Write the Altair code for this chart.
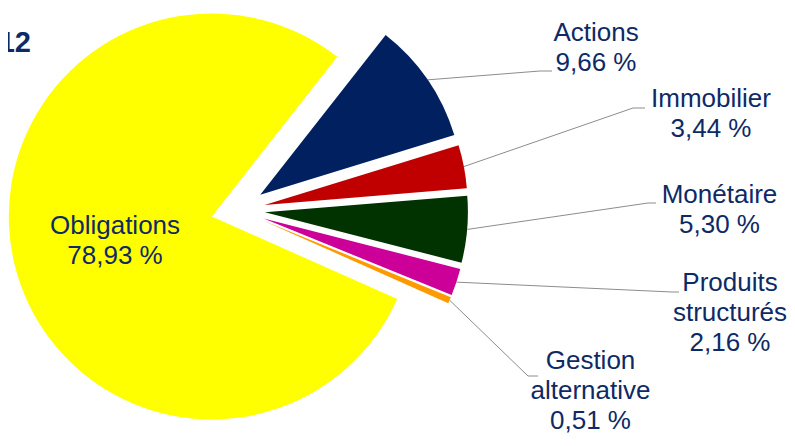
import math
import altair as alt
import pandas as pd

# ---- data ----
categories = ["Obligations", "Actions", "Immobilier", "Monétaire",
              "Produits structurés", "Gestion alternative"]
values = [78.93, 9.66, 3.44, 5.30, 2.16, 0.51]
label_names = ["Obligations", "Actions", "Immobilier", "Monétaire",
               "Produits\nstructurés", "Gestion\nalternative"]
colors = ["#FFFF00", "#002060", "#C00000", "#003300", "#CC0099", "#FF9900"]
title_lines = ["Répartition des fonds", "au 31/12/2012"]

# ---- layout (pixels inside the chart) ----
CX, CY = 230, 202          # pie centre
R = 203                    # outer radius
EXPLODE = 27               # slice explosion distance
START = math.radians(114)  # angle where the first slice starts (clockwise from 12 o'clock)

label_x = [107, 588, 703, 711.5, 722, 582.5]
label_y = [218, 25, 91, 187, 275, 353]      # centre of the first text line
elbow_x = [None, 532, 625, 640, 664, 520]
elbow_y = [None, 63, 100, 195, 284, 368]
tail_x = [None, 544, 637, 648, 671, 530]

TEXT_COLOR = "#0E2A66"
FONT = "Liberation Sans"

labels = [f"{n}\n{v:.2f}".replace(".", ",") + " %" for n, v in zip(label_names, values)]

df = pd.DataFrame({
    "order": list(range(len(categories))),
    "category": categories,
    "value": values,
    "label": labels,
    "lx": label_x,
    "ly": label_y,
    "ex": elbow_x,
    "ey": elbow_y,
    "tx": tail_x,
})

base = alt.Chart(df).transform_window(
    cum="sum(value)", sort=[alt.SortField("order")], frame=[None, 0]
).transform_calculate(
    c0="datum.cum - datum.value",
    c1="datum.cum",
    mid=f"{START} + 2*PI*(datum.cum - datum.value/2)/100",
).transform_calculate(
    cx=f"{CX} + {EXPLODE}*sin(datum.mid)",
    cy=f"{CY} - {EXPLODE}*cos(datum.mid)",
).transform_calculate(
    sx=f"datum.cx + {R}*sin(datum.mid)",
    sy=f"datum.cy - {R}*cos(datum.mid)",
)

arcs = base.mark_arc(radius=R, stroke=None).encode(
    theta=alt.Theta("c0:Q", stack=None,
                    scale=alt.Scale(domain=[0, 100], range=[START, START + 2 * math.pi])),
    theta2="c1:Q",
    x=alt.X("cx:Q", scale=None),
    y=alt.Y("cy:Q", scale=None),
    color=alt.Color("category:N", scale=alt.Scale(domain=categories, range=colors), legend=None),
)

leaders = base.transform_filter("isValid(datum.ex)")
seg1 = leaders.mark_rule(color="#8C8C8C", strokeWidth=1).encode(
    x=alt.X("sx:Q", scale=None), y=alt.Y("sy:Q", scale=None),
    x2="ex:Q", y2="ey:Q",
)
seg2 = leaders.mark_rule(color="#8C8C8C", strokeWidth=1).encode(
    x=alt.X("ex:Q", scale=None), y=alt.Y("ey:Q", scale=None),
    x2="tx:Q", y2="ey:Q",
)

texts = base.mark_text(
    font=FONT, fontSize=26, lineHeight=30, color=TEXT_COLOR,
    align="center", baseline="middle", lineBreak="\n",
).encode(
    x=alt.X("lx:Q", scale=None),
    y=alt.Y("ly:Q", scale=None),
    text="label:N",
)

title_df = pd.DataFrame({"t": title_lines, "x": [40, 23], "y": [0, 44]})
title = alt.Chart(title_df).mark_text(
    font=FONT, fontSize=29, fontWeight="bold", color=TEXT_COLOR,
    align="right", baseline="alphabetic",
).encode(
    x=alt.X("x:Q", scale=None), y=alt.Y("y:Q", scale=None), text="t:N",
)

chart = alt.layer(arcs, seg1, seg2, texts, title).properties(
    width=779, height=430, padding=0, autosize="none", background="white",
).configure_view(stroke=None)

chart.save("out.html", embed_options={"renderer": "svg", "actions": False})
